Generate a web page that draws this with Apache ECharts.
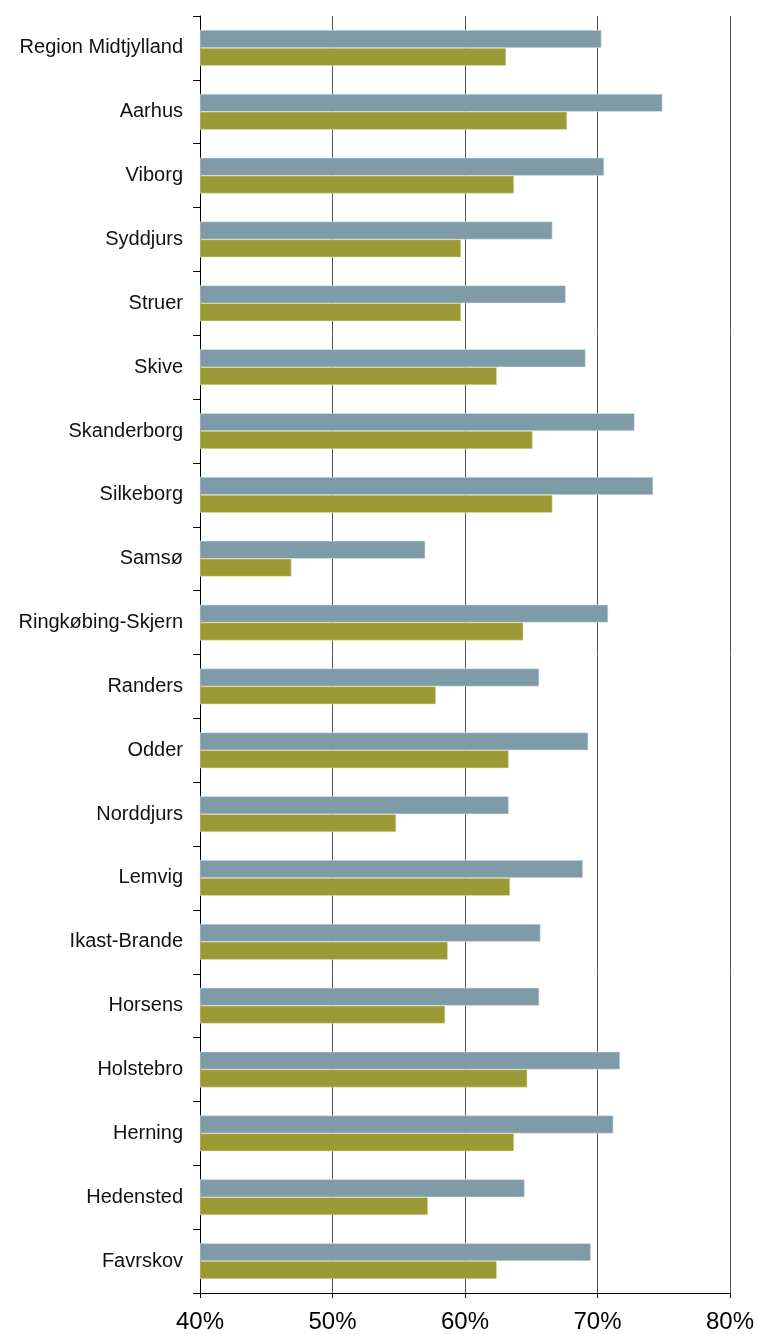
<!DOCTYPE html>
<html><head><meta charset="utf-8">
<script src="https://cdn.jsdelivr.net/npm/echarts@6/dist/echarts.min.js"></script>
<style>html,body{margin:0;padding:0;background:#fff}#c{width:757px;height:1334px}</style>
</head><body><div id="c"></div>
<script>
var categories = ["Region Midtjylland","Aarhus","Viborg","Syddjurs","Struer","Skive","Skanderborg","Silkeborg","Samsø","Ringkøbing-Skjern","Randers","Odder","Norddjurs","Lemvig","Ikast-Brande","Horsens","Holstebro","Herning","Hedensted","Favrskov"];
var seriesA = [70.3,74.9,70.5,66.6,67.6,69.1,72.8,74.2,57.0,70.8,65.6,69.3,63.3,68.9,65.7,65.6,71.7,71.2,64.5,69.5];
var seriesB = [63.1,67.7,63.7,59.7,59.7,62.4,65.1,66.6,46.9,64.4,57.8,63.3,54.8,63.4,58.7,58.5,64.7,63.7,57.2,62.4];
var xTicks = [40,50,60,70,80];

var chart = echarts.init(document.getElementById('c'), null, {renderer:'canvas'});
chart.setOption({
  animation:false,
  backgroundColor:'#fff',
  grid:{left:200,right:26,top:16,bottom:41,containLabel:false},
  xAxis:{type:'value',min:xTicks[0],max:xTicks[xTicks.length-1],interval:10,
    axisLine:{show:true,lineStyle:{color:'#000',width:1}},
    axisTick:{show:true,length:5,lineStyle:{color:'#000'}},
    axisLabel:{formatter:'{value}%',fontFamily:'Liberation Sans, Arial',fontSize:24,color:'#000',margin:17},
    splitLine:{show:true,lineStyle:{color:'#555',width:1}}},
  yAxis:{type:'category',data:categories,inverse:true,
    axisLine:{show:true,lineStyle:{color:'#000',width:1}},
    axisTick:{show:true,length:7,lineStyle:{color:'#000'}},
    axisLabel:{fontFamily:'Liberation Sans, Arial',fontSize:20,color:'#111',margin:17}},
  series:[
    {type:'bar',data:seriesA,barGap:'0%',barCategoryGap:'44%',itemStyle:{color:'#7f9ba8',borderColor:'#e3ebef',borderWidth:0.5}},
    {type:'bar',data:seriesB,barGap:'0%',barCategoryGap:'44%',itemStyle:{color:'#9c9a36',borderColor:'#e5e4b0',borderWidth:0.5}}
  ]
});
</script></body></html>
